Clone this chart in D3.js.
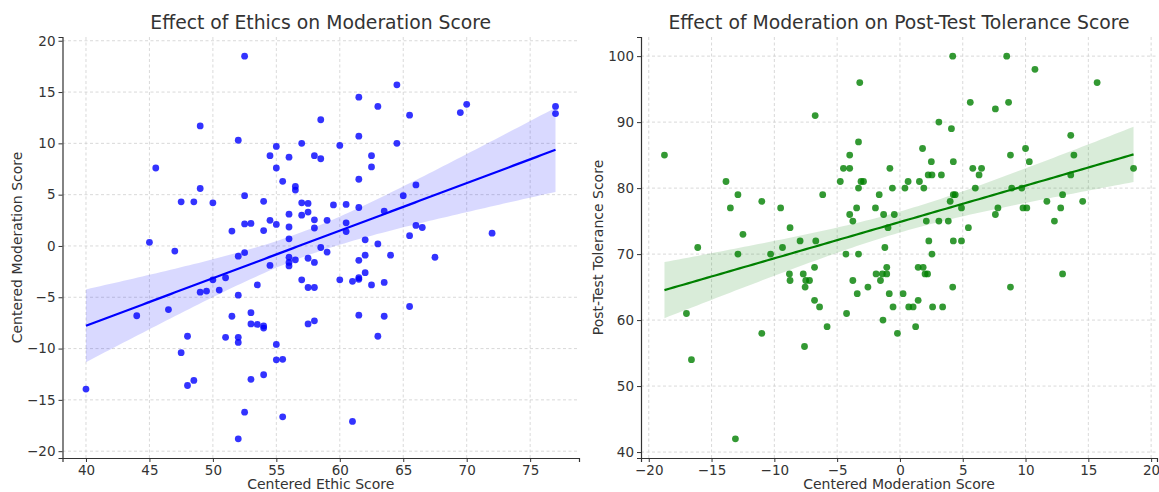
<!DOCTYPE html>
<html><head><meta charset="utf-8">
<script src="https://cdn.jsdelivr.net/npm/d3@7"></script>
<style>
body{margin:0;background:#fff;}
svg{display:block;font-family:"DejaVu Sans",sans-serif;}
.tick text{fill:#333;}
</style></head><body>
<svg id="c" width="1159" height="492"></svg>
<script>
// ---- Left chart data: Centered Ethic Score vs Centered Moderation Score
const ethicX = [52.5,49.0,45.5,52.0,55.0,54.5,56.0,55.0,57.0,58.0,58.5,58.5,55.5,56.5,56.5,49.0,52.5,47.5,48.5,50.0,54.0,57.0,57.5,56.0,57.0,57.5,58.0,59.0,58.0,54.5,52.5,53.0,55.0,56.0,51.5,54.0,56.0,45.0,47.0,52.5,52.0,56.0,56.5,57.5,58.5,64.5,61.5,63.0,65.5,69.5,70.0,77.0,77.0,60.0,61.5,64.5,62.5,62.5,61.5,66.0,65.0,59.5,60.5,61.5,60.5,60.5,63.5,66.0,66.5,65.5,72.0,62.0,63.0,59.0,61.5,62.0,64.0,67.5,58.0,57.0,57.5,58.0,60.0,61.0,61.5,61.5,62.0,62.5,63.5,65.5,61.5,63.5,63.0,57.5,58.0,61.0,56.0,56.0,54.5,53.5,50.0,51.0,49.0,49.5,50.5,52.0,46.5,44.0,51.5,53.0,53.0,53.5,54.0,54.0,48.0,51.0,52.0,52.0,47.5,55.0,55.0,55.5,53.0,54.0,48.0,48.5,40.0,52.5,55.5,52.0];
const moderationY = [18.5,11.7,7.6,10.3,9.7,8.8,8.65,7.6,10.0,8.8,12.3,8.5,6.3,5.8,5.45,5.6,4.9,4.3,4.3,4.2,4.35,4.2,4.15,3.1,3.0,3.3,2.55,2.5,1.75,2.5,2.15,2.2,2.1,1.85,1.45,1.5,0.7,0.35,-0.5,-0.65,-1.0,-1.1,-1.35,-1.2,-0.15,15.7,14.5,13.6,12.75,13.0,13.8,13.6,12.9,9.8,10.7,10.0,8.8,7.7,6.5,5.95,4.9,4.0,4.05,3.75,2.25,1.4,3.4,2.0,1.8,1.0,1.25,0.6,0.2,-0.6,-1.4,-0.9,-0.9,-1.1,-1.6,-3.3,-4.05,-4.05,-3.3,-3.45,-3.25,-3.1,-2.6,-3.8,-3.55,-5.9,-6.75,-6.85,-8.8,-7.6,-7.3,-17.1,-1.6,-1.95,-1.9,-3.8,-3.3,-3.1,-4.5,-4.4,-4.3,-4.8,-6.2,-6.8,-6.85,-6.5,-7.6,-7.65,-7.8,-8.0,-8.8,-8.9,-8.9,-9.4,-10.4,-9.6,-11.1,-11.05,-13.0,-12.55,-13.6,-13.1,-13.95,-16.2,-16.65,-18.8];
const leftXTicks = [40,45,50,55,60,65,70,75];
const leftYTicks = [-20,-15,-10,-5,0,5,10,15,20];

// ---- Right chart data: Centered Moderation Score vs Post-Test Tolerance Score
const modX = [-18.75,-16.1,-13.85,-13.5,-12.9,-12.5,-12.9,-11.0,-10.3,-9.5,-9.35,-8.75,-7.95,-6.7,-6.75,-6.15,-4.75,-4.5,-4.0,-4.0,-3.2,-3.3,-3.1,-2.9,-3.3,-4.0,-3.75,-3.45,-4.3,-3.3,-1.95,-1.65,-1.3,-0.95,-0.45,-0.8,-0.6,0.4,0.65,1.55,1.9,1.8,2.5,2.25,2.55,3.3,3.1,4.1,4.25,5.8,6.3,6.5,6.0,4.25,4.4,4.0,4.9,2.1,3.1,3.85,5.45,2.3,4.25,4.9,4.2,8.5,10.75,15.7,5.6,7.6,8.65,8.8,10.0,10.3,13.6,13.85,13.6,18.6,8.9,9.7,12.95,11.7,14.55,9.8,10.1,12.8,12.3,7.8,7.6,-1.2,2.55,-8.8,-7.7,-8.75,-7.5,-7.2,-7.55,-6.8,-6.8,-6.4,-5.8,-7.6,-4.25,-3.75,-3.4,-2.55,-1.9,-1.4,-1.05,-1.05,-1.55,-0.85,-0.55,-1.35,-0.2,0.25,0.7,1.05,1.45,1.25,1.45,1.85,2.0,2.2,2.6,3.4,4.2,8.8,12.95,-17.0,-16.6,-11.0,-13.1];
const toleranceY = [85,71,81,77,79,73,70,78,70,77,71,74,72,72,91,79,81,83,83,85,96,87,81,81,80,76,75,77,70,70,77,79,76,74,76,83,80,80,81,81,80,86,84,82,82,82,90,89,84,83,82,83,80,79,79,78,77,75,75,75,74,72,72,72,100,100,98,96,93,92,93,85,86,84,88,85,82,83,80,80,79,78,78,77,77,77,75,77,76,71,70,67,67,66,66,66,65,68,63,62,59,56,61,66,64,65,67,67,67,68,66,64,62,60,58,64,62,62,63,59,68,68,67,67,62,62,65,65,67,61,54,58,42];
const rightXTicks = [-20,-15,-10,-5,0,5,10,15,20];
const rightYTicks = [40,50,60,70,80,90,100];

const svg = d3.select("#c");

function regress(xs, ys){
  const n = xs.length;
  const mx = d3.mean(xs), my = d3.mean(ys);
  let sxx=0, sxy=0;
  for(let i=0;i<n;i++){ sxx += (xs[i]-mx)**2; sxy += (xs[i]-mx)*(ys[i]-my); }
  const b = sxy/sxx, a = my - b*mx;
  let sse=0;
  for(let i=0;i<n;i++){ sse += (ys[i]-(a+b*xs[i]))**2; }
  const s = Math.sqrt(sse/(n-2));
  const t = 1.979;
  const [x0,x1] = d3.extent(xs);
  const grid = d3.range(0,101).map(k => x0 + (x1-x0)*k/100);
  return grid.map(x => {
    const yh = a + b*x;
    const se = s*Math.sqrt(1/n + (x-mx)**2/sxx);
    return {x, y:yh, lo:yh - t*se, hi:yh + t*se};
  });
}

function padded(vals){
  const [lo,hi] = d3.extent(vals);
  const p = (hi-lo)*0.05;
  return [lo-p, hi+p];
}

function panel(opt){
  const g = svg.append("g");
  const x = d3.scaleLinear().domain(padded(opt.xs)).range([opt.x0, opt.x1]);
  const y = d3.scaleLinear().domain(padded(opt.ys)).range([opt.y1, opt.y0]);

  // grid
  g.append("g").selectAll("line").data(opt.xTicks).join("line")
    .attr("x1", d=>x(d)).attr("x2", d=>x(d)).attr("y1", opt.y0).attr("y2", opt.y1)
    .attr("stroke","#cfcfcf").attr("stroke-width",0.8).attr("stroke-dasharray","3,2.5");
  g.append("g").selectAll("line").data(opt.yTicks).join("line")
    .attr("y1", d=>y(d)).attr("y2", d=>y(d)).attr("x1", opt.x0).attr("x2", opt.x1)
    .attr("stroke","#cfcfcf").attr("stroke-width",0.8).attr("stroke-dasharray","3,2.5");

  // points
  const pts = opt.xs.map((v,i)=>[v,opt.ys[i]]);
  g.append("g").selectAll("circle").data(pts).join("circle")
    .attr("cx", d=>x(d[0])).attr("cy", d=>y(d[1])).attr("r",3.4)
    .attr("fill", opt.color).attr("fill-opacity",0.8);

  // regression
  const fit = regress(opt.xs, opt.ys);
  g.append("path").datum(fit)
    .attr("d", d3.area().x(d=>x(d.x)).y0(d=>y(d.lo)).y1(d=>y(d.hi)))
    .attr("fill", opt.color).attr("fill-opacity",0.15);
  g.append("path").datum(fit)
    .attr("d", d3.line().x(d=>x(d.x)).y(d=>y(d.y)))
    .attr("fill","none").attr("stroke", opt.color).attr("stroke-width",2.2);

  // axes
  const fmt = d => d<0 ? "\u2212"+Math.abs(d) : d;
  const ax = g.append("g").attr("transform",`translate(0,${opt.y1})`)
    .call(d3.axisBottom(x).tickValues(opt.xTicks).tickSize(4).tickPadding(3).tickFormat(fmt));
  const ay = g.append("g").attr("transform",`translate(${opt.x0},0)`)
    .call(d3.axisLeft(y).tickValues(opt.yTicks).tickSize(4).tickPadding(3).tickFormat(fmt));
  [ax,ay].forEach(a=>{
    a.select(".domain").attr("stroke","#333").attr("stroke-width",1.2);
    a.selectAll(".tick line").attr("stroke","#333");
    a.selectAll(".tick text").attr("font-size",13.5).attr("font-family","DejaVu Sans").attr("fill","#333");
  });

  g.append("text").attr("x",(opt.x0+opt.x1)/2).attr("y",29).attr("text-anchor","middle")
    .attr("font-size",18.8).attr("fill","#333").text(opt.title);
  g.append("text").attr("x",(opt.x0+opt.x1)/2).attr("y",488.5).attr("text-anchor","middle")
    .attr("font-size",14).attr("fill","#333").text(opt.xLabel);
  g.append("text").attr("transform",`translate(${opt.yLabelX},${(opt.y0+opt.y1)/2}) rotate(-90)`)
    .attr("text-anchor","middle").attr("font-size",14).attr("fill","#333").text(opt.yLabel);
}

panel({xs:ethicX, ys:moderationY, xTicks:leftXTicks, yTicks:leftYTicks,
  x0:62.5, x1:579, y0:37, y1:458, color:"#0000ff",
  title:"Effect of Ethics on Moderation Score", xLabel:"Centered Ethic Score",
  yLabel:"Centered Moderation Score", yLabelX:22});
panel({xs:modX, ys:toleranceY, xTicks:rightXTicks, yTicks:rightYTicks,
  x0:641, x1:1157, y0:37, y1:458, color:"#008000",
  title:"Effect of Moderation on Post-Test Tolerance Score", xLabel:"Centered Moderation Score",
  yLabel:"Post-Test Tolerance Score", yLabelX:603});
</script></body></html>
